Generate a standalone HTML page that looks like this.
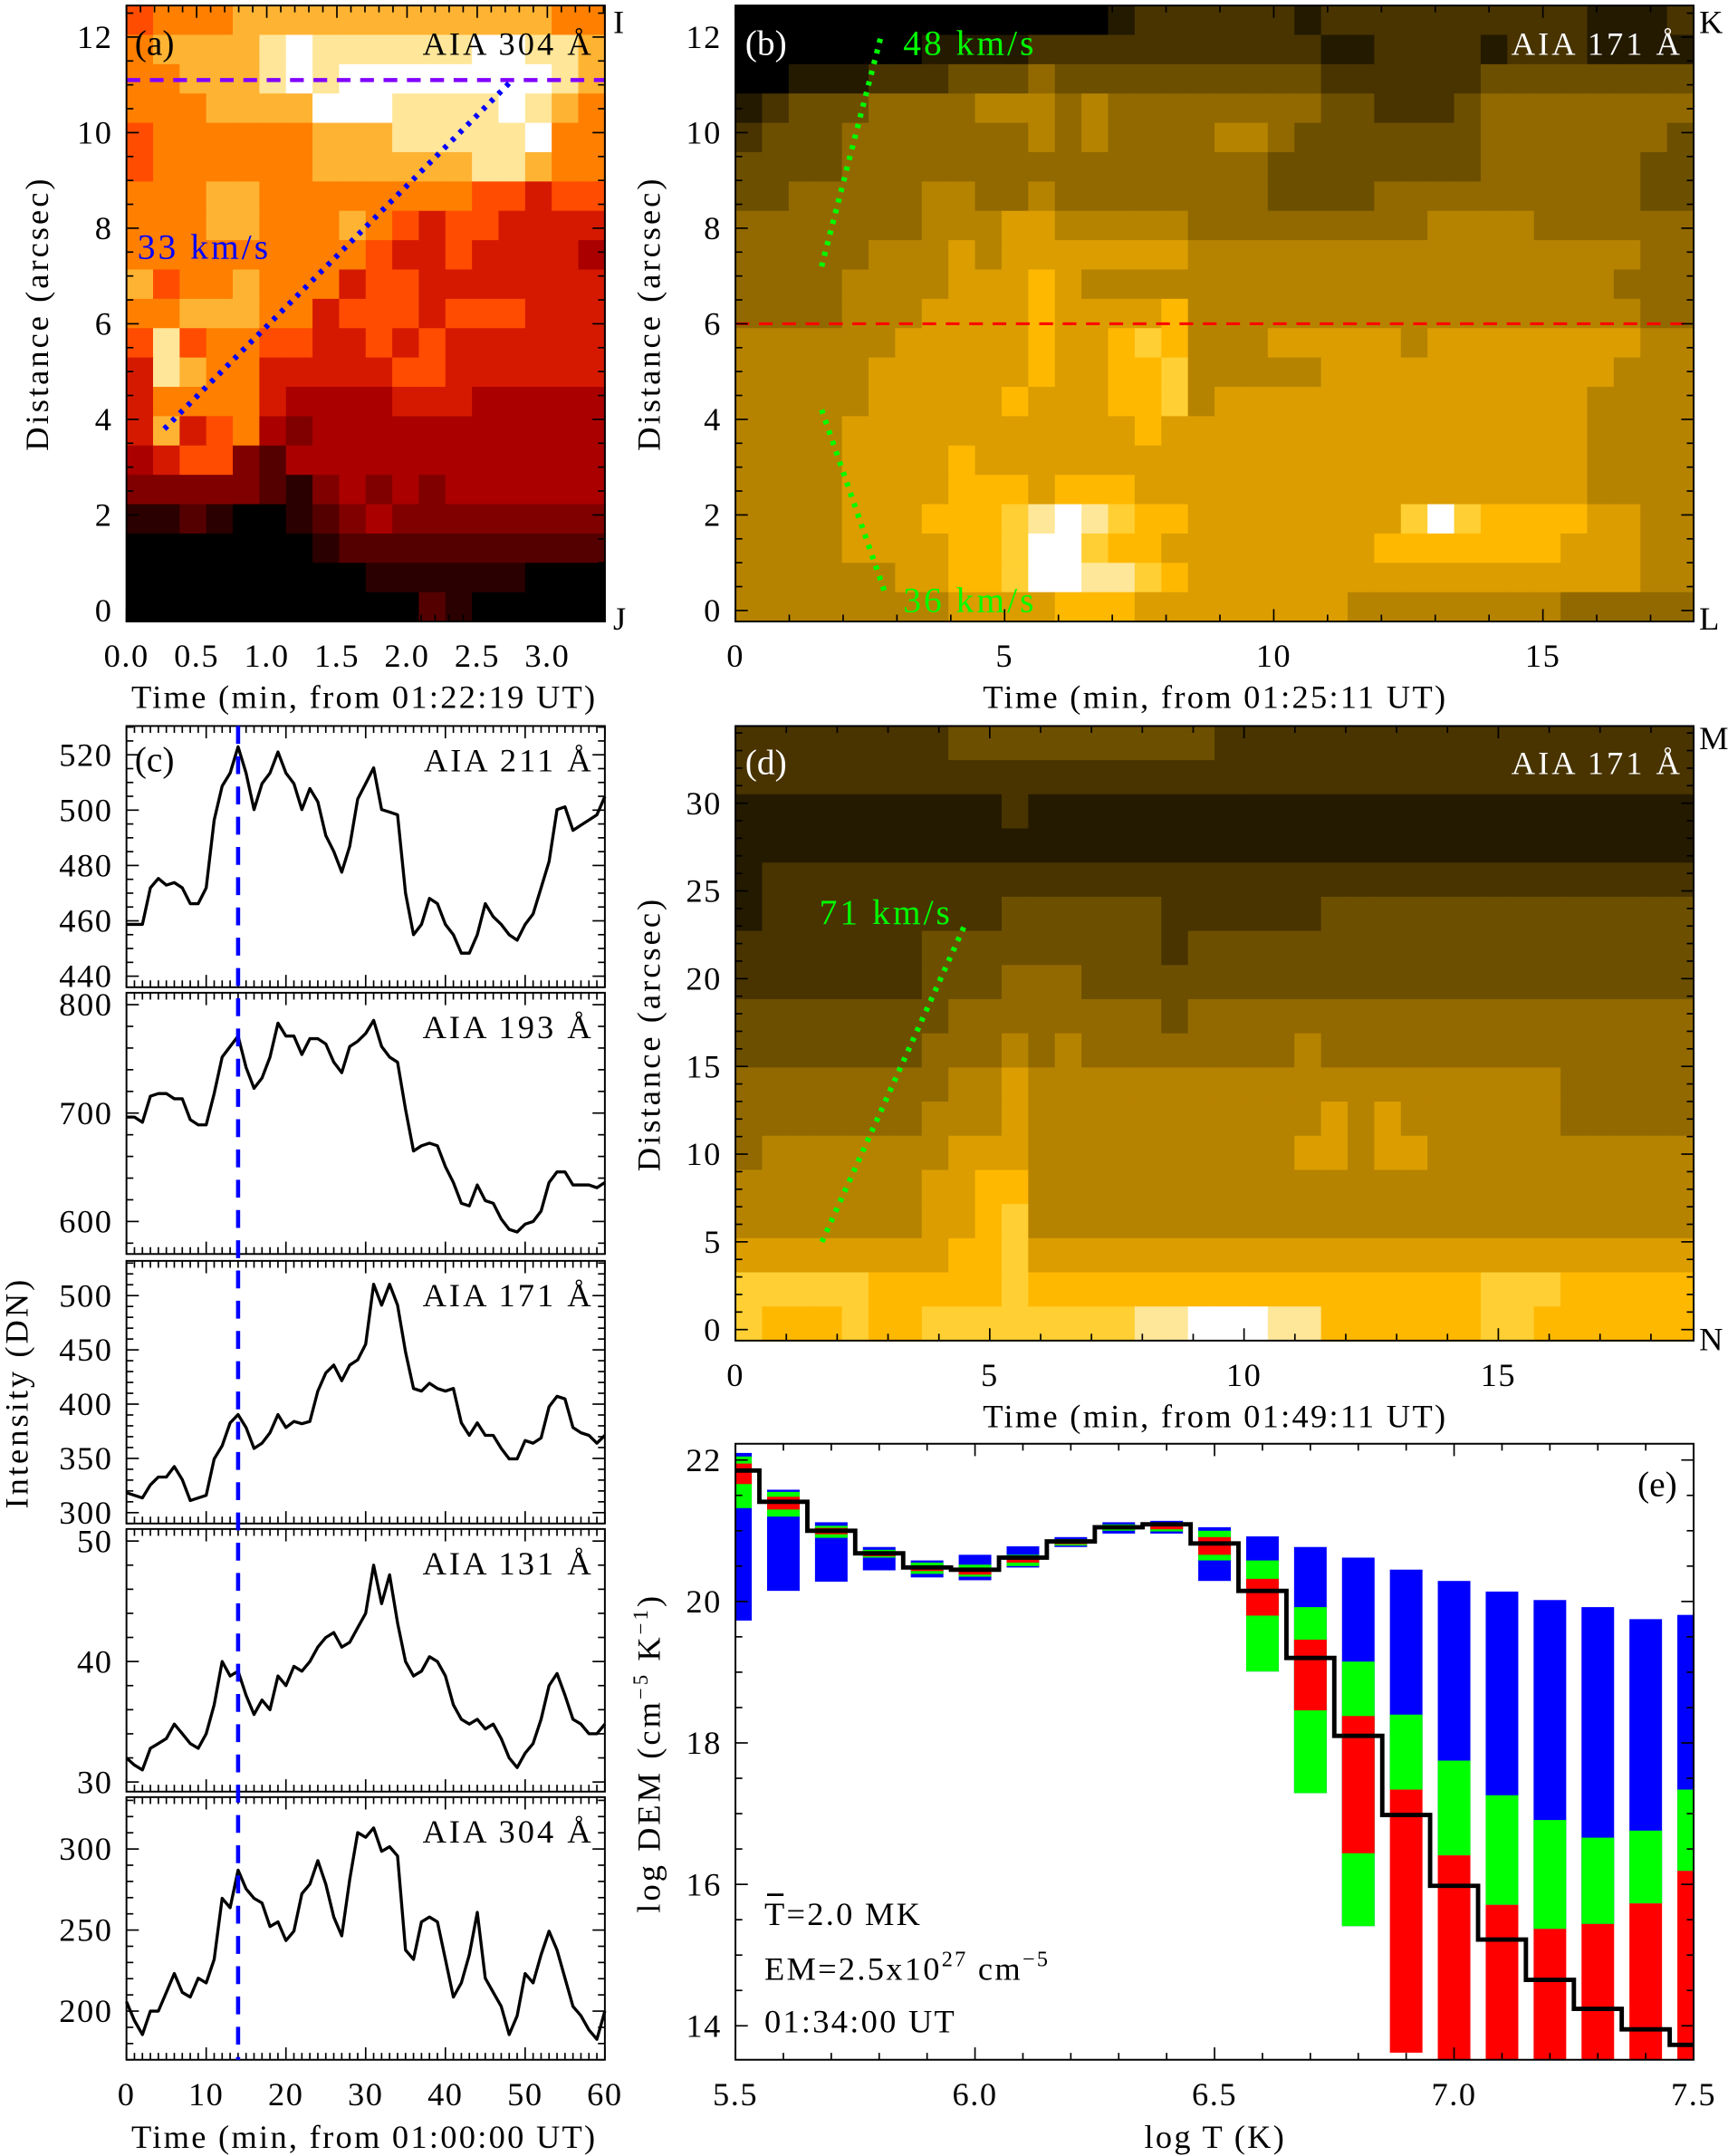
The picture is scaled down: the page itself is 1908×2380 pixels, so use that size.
<!DOCTYPE html>
<html><head><meta charset="utf-8">
<style>
html,body{margin:0;padding:0;background:#fff;}
svg{display:block;}
text{font-family:"Liberation Serif",serif;}
</style></head>
<body>
<svg id="fig" xmlns="http://www.w3.org/2000/svg" width="1908" height="2380" viewBox="0 0 1257 1568" preserveAspectRatio="none"></svg>
<script>
// ---------- DATA ----------
const seriesTimes = Array.from({length:61},(_, i)=>i); // minutes 0..60
const flux211 = [458.7,458.7,458.7,471.9,475.3,472.9,473.8,471.9,466.2,466.2,471.9,496.4,508.7,513.4,522.9,513.4,500.2,509.6,513.4,521.0,513.4,509.6,500.2,507.8,503.0,490.8,485.1,477.6,487.0,504.0,509.6,515.3,500.2,499.3,498.3,470.0,455.0,458.7,468.1,466.2,458.7,455.0,448.3,448.3,455.0,466.2,461.5,458.7,455.0,453.0,458.7,462.5,471.9,481.4,500.2,501.2,492.7,494.6,496.4,498.3,504.9];
const flux193 = [696.3,696.3,691.5,715.6,718,718,713.2,713.2,693.9,689.1,689.1,718,751.7,761.4,771,742.1,722.8,732.4,751.7,783,771,771,754.1,768.6,768.6,763.8,746.9,737.3,761.4,766.2,773.4,785.5,761.4,751.7,746.9,703.5,665,669.8,672.2,669.8,650.5,636,616.8,614.4,633.7,619.2,616.8,602.3,592.7,590.3,597.5,599.9,609.6,636,645.7,645.7,633.7,633.7,633.7,631.2,636];
const flux171 = [318.4,316,313.6,325.6,332.8,332.8,342.4,330.4,311.2,313.6,316,349.6,361.6,382.8,390.4,378.4,359.2,364,373.6,390.4,378.4,384,382,384,412,428.8,436,421.6,436,440.8,455.2,510.4,491.2,510.4,491.2,448,414.4,412,419.2,414.4,412,414.4,382.8,371.2,382.8,371.2,371.2,359.2,349.6,349.6,366.4,364,368.8,397.6,407.2,404.8,378.4,373.6,371.2,364,371.2];
const flux131 = [32,31.4,31,32.8,33.2,33.6,34.8,34,33.2,32.8,34,36.4,40,38.8,39.2,37.2,35.6,36.8,36,38.8,38,39.6,39.2,40,41.2,42,42.4,41.2,41.6,42.8,44,48,44.8,47.2,43.2,40,38.8,39.2,40.4,40,38.8,36.4,35.2,34.8,35.2,34.4,34.8,33.6,32,31.2,32.4,33.2,35.2,38,39,37.2,35.2,34.8,34,34,34.8];
const flux304 = [205.8,194.2,185.5,200,200,211.6,223.2,211.6,208.7,220.3,217.4,231.9,269.6,263.8,287,275.4,269.6,266.7,252.2,255.1,243.5,249.3,272.5,278.3,292.8,278.3,258,246.4,281.2,310.1,307.2,313,298.6,301.4,295.7,237.7,231.9,255.1,258,255.1,231.9,208.7,217.4,234.8,260.9,220.3,211.6,202.9,185.5,197.1,223.2,217.4,234.8,249.3,237.7,220.3,202.9,197.1,188.4,182.6,200];
const markTime = 14;

const demLogT = [5.5,5.6,5.7,5.8,5.9,6.0,6.1,6.2,6.3,6.4,6.5,6.6,6.7,6.8,6.9,7.0,7.1,7.2,7.3,7.4,7.5];
const demBest = [21.85,21.41,21.0,20.68,20.48,20.45,20.62,20.85,21.05,21.09,20.82,20.15,19.2,18.1,16.98,15.98,15.22,14.65,14.24,13.95,13.73];
const blueHi = [22.1,21.58,21.12,20.77,20.58,20.66,20.78,20.91,21.12,21.14,21.05,20.92,20.77,20.62,20.45,20.29,20.14,20.02,19.92,19.75,19.81];
const blueLo = [19.73,20.15,20.28,20.44,20.34,20.3,20.48,20.77,20.96,20.96,20.29,19.01,17.29,15.41,17.34,16.41,15.71,15.37,15.44,15.73,16.19];
const greenHi = [22.05,21.55,21.07,20.73,20.55,20.52,20.66,20.88,21.09,21.11,21.0,20.58,19.92,19.15,18.4,17.75,17.26,16.91,16.66,16.76,17.34];
const greenLo = [21.32,21.2,20.9,20.62,20.39,20.35,20.5,20.79,21.0,20.99,20.58,19.01,17.29,15.41,17.34,16.41,15.71,15.37,15.44,15.73,16.19];
const redHi = [21.95,21.48,21.04,20.7,20.51,20.47,20.62,20.85,21.06,21.08,20.91,20.32,19.46,18.38,17.34,16.41,15.71,15.37,15.44,15.73,16.19];
const redLo = [21.66,21.3,20.95,20.64,20.43,20.38,20.55,20.81,21.02,21.02,20.66,19.8,18.46,16.44,13.62,13.0,13.0,13.0,13.0,13.0,13.0];

// heatmap intensities (0-9, a=10), rows top->bottom
const grid304 = ["677788888888888877","788889a999999aa998","778889a9aaaaaaaa98","7778888aaa9999a987","677777788899999a77","677777788888899877","777887777777766566","777887778765665555","777777777655655554","867787775665555555","778887756665666555","696776655656555555","598775555566555555","577775444455544444","585674344444444444","456632444444444444","333332134343444444","112100123433333333","000000012222222222","000000000111111000","000000000002100000"];
const grid171b = ["000000000000001222222122222222221112","000000011112222222222211222212221111","001112223334333333333322222233333333","123334444555454444444433222344444444","233344444445454444554333333344444443","333344444444444444443333333344444433","334444455445444444443333444444444433","444444455566555554444444445555444444","444445556566666665555555555555555544","444455556667655555555555555555555444","444455566667666675555555555555555544","555555666667667875556666656666666655","555556666667667785555566666666666555","555556666676667785666666666666665555","555566666666666766666666666666665555","555566667666666666666666666666665555","555566667776777666666666666666665555","555566677789a9877666666668a877776655","55556666778aa87766666666777777766655","55555566778aa99876666666666666666655","555555556666777666666665555555544444"];
const grid171d = ["222222223333333333222222222222222222","222222222222222222222222222222222222","111111111121111111111111111111111111","111111111111111111111111111111111111","122222222222222222222222222222222222","122222222233333322222233333333333333","222222233333333323333333333333333333","222222233344433333333333333333333333","333333334444444434444444444444444444","333333344454544444444544444444444444","444444445565555555555555555555544444","444444455565555555555565655555544444","455555556665555555555665665555555555","555555566775555555555555555555555555","555555566785555555555555555555555555","666666667786666666666666666666666666","888887777787777777777777777788877777","87778778888888899aaa9977777788777777"];

// ---------- HELPERS ----------
const NS='http://www.w3.org/2000/svg';
const svg=document.getElementById('fig');
function el(tag, attrs, name, parent){
  const e=document.createElementNS(NS,tag);
  for(const k in attrs) e.setAttribute(k, attrs[k]);
  
  
  (parent||svg).appendChild(e);
  return e;
}
function txt(x,y,s,name,opts){
  opts=opts||{};
  const t=el('text',{x:x,y:y,'font-size':opts.size||24,fill:opts.fill||'#000','text-anchor':opts.anchor||'start','letter-spacing':opts.ls||0},name);
  if(opts.rot) t.setAttribute('transform','rotate('+opts.rot+' '+x+' '+y+')');
  t.textContent=s;
  return t;
}
function mkBox(x0,x1,y0,y1,xmin,xmax,ymin,ymax){
  return {x0,x1,y0,y1,xmin,xmax,ymin,ymax,
    sx:v=>x0+(v-xmin)/(xmax-xmin)*(x1-x0),
    sy:v=>y1-(v-ymin)/(ymax-ymin)*(y1-y0)};
}
function clamp(v){return Math.max(0,Math.min(1,v));}
function col304(t){return 'rgb('+Math.round(255*clamp(t/0.6))+','+Math.round(255*clamp((t-0.45)/0.5))+','+Math.round(255*clamp((t-0.75)/0.25))+')';}
function col171(t){return 'rgb('+Math.round(255*clamp(t/0.7))+','+Math.round(255*(clamp(t/0.7)*0.72+clamp((t-0.7)/0.3)*0.28))+','+Math.round(255*clamp((t-0.75)/0.25))+')';}
function heat(b,rows,cmap,name){
  const g=el('g',{},name);
  const h=(b.ymax-b.ymin)/rows.length;
  rows.forEach((r,i)=>{
    const w=(b.xmax-b.xmin)/r.length;
    for(let j=0;j<r.length;j++){
      const v=parseInt(r[j],16)/10;
      const xa=b.sx(b.xmin+j*w), xb=b.sx(b.xmin+(j+1)*w);
      const ya=b.sy(b.ymax-i*h), yb=b.sy(b.ymax-(i+1)*h);
      el('rect',{x:xa,y:ya,width:xb-xa+0.6,height:yb-ya+0.6,fill:cmap(v)},'heatmap-cell',g);
    }
  });
}
function frame(b,name){
  el('rect',{x:b.x0,y:b.y0,width:b.x1-b.x0,height:b.y1-b.y0,fill:'none',stroke:'#000','stroke-width':1.3},name);
}
function ticks(b,xMaj,xMin,yMaj,yMin,name,showX,showY,xfmt){
  const g=el('g',{stroke:'#000','stroke-width':1.1},name);
  const eps=1e-6;
  for(let v=Math.ceil(b.xmin/xMin-eps)*xMin; v<=b.xmax+eps; v+=xMin){
    const x=b.sx(v); const maj=xMaj.some(m=>Math.abs(m-v)<1e-6);const L=maj?9:5;
    el('line',{x1:x,x2:x,y1:b.y1,y2:b.y1-L},'x-tick',g);
    el('line',{x1:x,x2:x,y1:b.y0,y2:b.y0+L},'x-tick-top',g);
  }
  for(let v=Math.ceil(b.ymin/yMin-eps)*yMin; v<=b.ymax+eps; v+=yMin){
    const y=b.sy(v); const maj=yMaj.some(m=>Math.abs(m-v)<1e-6);const L=maj?9:5;
    el('line',{x1:b.x0,x2:b.x0+L,y1:y,y2:y},'y-tick',g);
    el('line',{x1:b.x1,x2:b.x1-L,y1:y,y2:y},'y-tick-right',g);
  }
  if(showX) xMaj.forEach(v=>txt(b.sx(v),b.y1+33,xfmt?xfmt(v):String(v),'x-tick-label',{anchor:'middle',ls:1}));
  if(showY) yMaj.forEach(v=>txt(b.x0-10,b.sy(v)+8,String(v),'y-tick-label',{anchor:'end',ls:1}));
}
function dotted(b,p,q,color,name){
  el('line',{x1:b.sx(p[0]),y1:b.sy(p[1]),x2:b.sx(q[0]),y2:b.sy(q[1]),stroke:color,'stroke-width':4,'stroke-dasharray':'3,5'},name);
}

// ---------- PANEL A ----------
const A=mkBox(92,440,4,452,0,3.41,-0.23,12.66);
heat(A,grid304,col304,'panel-a-heatmap');
el('line',{x1:A.x0,x2:A.x1,y1:A.sy(11.1),y2:A.sy(11.1),stroke:'#8000ff','stroke-width':3,'stroke-dasharray':'10,7'},'purple-dashed-line');
dotted(A,[0.27,3.8],[2.75,11.1],'#0000ff','dotted-fit-33kms');
txt(100,188,'33 km/s','speed-label-33',{fill:'#0000ff',size:26,ls:2});
txt(98,40,'(a)','panel-a-label',{size:26});
txt(432,40,'AIA 304 Å','panel-a-title',{anchor:'end',ls:2});
txt(446,24,'I','marker-I');txt(446,458,'J','marker-J');
frame(A,'panel-a-frame');
ticks(A,[0,0.5,1,1.5,2,2.5,3],0.1,[0,2,4,6,8,10,12],0.5,'panel-a-ticks',true,true,v=>v.toFixed(1));
txt(265,515,'Time (min, from 01:22:19 UT)','panel-a-x-title',{anchor:'middle',ls:1.5});
txt(35,228,'Distance (arcsec)','panel-a-y-title',{anchor:'middle',rot:-90,ls:2});

// ---------- PANEL B ----------
const B=mkBox(535,1232,4,452,0,17.8,-0.23,12.66);
heat(B,grid171b,col171,'panel-b-heatmap');
el('line',{x1:B.x0,x2:B.x1,y1:B.sy(6),y2:B.sy(6),stroke:'#ff0000','stroke-width':2,'stroke-dasharray':'10,7'},'red-dashed-line');
dotted(B,[1.6,7.2],[2.7,12.0],'#00ff00','dotted-fit-48kms');
dotted(B,[1.6,4.2],[2.8,0.3],'#00ff00','dotted-fit-36kms');
txt(657,40,'48 km/s','speed-label-48',{fill:'#00ff00',size:26,ls:2});
txt(657,445,'36 km/s','speed-label-36',{fill:'#00ff00',size:26,ls:2});
txt(542,40,'(b)','panel-b-label',{fill:'#fff',size:26});
txt(1224,40,'AIA 171 Å','panel-b-title',{anchor:'end',fill:'#fff',ls:2});
txt(1236,24,'K','marker-K');txt(1236,458,'L','marker-L');
frame(B,'panel-b-frame');
ticks(B,[0,5,10,15],1,[0,2,4,6,8,10,12],0.5,'panel-b-ticks',true,true);
txt(884,515,'Time (min, from 01:25:11 UT)','panel-b-x-title',{anchor:'middle',ls:1.5});
txt(480,228,'Distance (arcsec)','panel-b-y-title',{anchor:'middle',rot:-90,ls:2});

// ---------- PANEL D ----------
const D=mkBox(535,1232,528,975,0,18.84,-0.63,34.4);
heat(D,grid171d,col171,'panel-d-heatmap');
dotted(D,[1.7,5],[4.5,23],'#00ff00','dotted-fit-71kms');
txt(596,672,'71 km/s','speed-label-71',{fill:'#00ff00',size:26,ls:2});
txt(542,563,'(d)','panel-d-label',{fill:'#fff',size:26});
txt(1224,563,'AIA 171 Å','panel-d-title',{anchor:'end',fill:'#fff',ls:2});
txt(1236,545,'M','marker-M');txt(1236,982,'N','marker-N');
frame(D,'panel-d-frame');
ticks(D,[0,5,10,15],1,[0,5,10,15,20,25,30],1,'panel-d-ticks',true,true);
txt(884,1038,'Time (min, from 01:49:11 UT)','panel-d-x-title',{anchor:'middle',ls:1.5});
txt(480,752,'Distance (arcsec)','panel-d-y-title',{anchor:'middle',rot:-90,ls:2});

// ---------- PANEL C ----------
const cPanels=[
 {y0:528,y1:718,ymin:436,ymax:530.4,maj:[440,460,480,500,520],min:5,data:flux211,title:'AIA 211 Å',name:'211'},
 {y0:722,y1:912,ymin:570,ymax:811,maj:[600,700,800],min:20,data:flux193,title:'AIA 193 Å',name:'193'},
 {y0:917,y1:1108,ymin:290,ymax:532,maj:[300,350,400,450,500],min:10,data:flux171,title:'AIA 171 Å',name:'171'},
 {y0:1112,y1:1303,ymin:29.2,ymax:51,maj:[30,40,50],min:2,data:flux131,title:'AIA 131 Å',name:'131'},
 {y0:1307,y1:1498,ymin:170,ymax:332,maj:[200,250,300],min:10,data:flux304,title:'AIA 304 Å',name:'304'}];
cPanels.forEach((p,k)=>{
  const b=mkBox(92,440,p.y0,p.y1,0,60,p.ymin,p.ymax);
  const d=p.data.map((v,i)=>(i?'L':'M')+b.sx(seriesTimes[i]).toFixed(1)+','+b.sy(v).toFixed(1)).join(' ');
  el('path',{d:d,fill:'none',stroke:'#000','stroke-width':2.2,'stroke-linejoin':'round'},'lightcurve-'+p.name);
  frame(b,'panel-c-frame-'+p.name);
  ticks(b,[0,10,20,30,40,50,60],1,p.maj,p.min,'panel-c-ticks-'+p.name,k===4,true);
  txt(432,p.y0+33,p.title,'lightcurve-title-'+p.name,{anchor:'end',ls:2});
});
const C0=mkBox(92,440,528,1498,0,60,0,1);
el('line',{x1:C0.sx(markTime),x2:C0.sx(markTime),y1:528,y2:1498,stroke:'#0000ff','stroke-width':3,'stroke-dasharray':'13,9'},'blue-dashed-time-marker');
txt(98,561,'(c)','panel-c-label',{size:26});
txt(265,1562,'Time (min, from 01:00:00 UT)','panel-c-x-title',{anchor:'middle',ls:1.5});
txt(20,1013,'Intensity (DN)','panel-c-y-title',{anchor:'middle',rot:-90,ls:2});

// ---------- PANEL E ----------
const E=mkBox(535,1232,1050,1498,5.5,7.5,13.52,22.23);
const cp=el('clipPath',{id:'eclip'},'dem-clip');
el('rect',{x:E.x0,y:E.y0,width:E.x1-E.x0,height:E.y1-E.y0},'dem-clip-rect',cp);
const eg=el('g',{'clip-path':'url(#eclip)'},'dem-bars');
const bw=0.068;
demLogT.forEach((t,i)=>{
  [[blueLo,blueHi,'#0000ff','dem-bar-blue'],[greenLo,greenHi,'#00ff00','dem-bar-green'],[redLo,redHi,'#ff0000','dem-bar-red']].forEach(s=>{
    const xa=E.sx(t-bw/2), xb=E.sx(t+bw/2), ya=E.sy(s[1][i]), yb=E.sy(s[0][i]);
    el('rect',{x:xa,y:ya,width:xb-xa,height:yb-ya,fill:s[2]},s[3],eg);
  });
});
let sd='';
demLogT.forEach((t,i)=>{
  const xa=E.sx(Math.max(5.5,t-0.05)), xb=E.sx(Math.min(7.5,t+0.05)), y=E.sy(demBest[i]);
  sd+=(i?'L':'M')+xa.toFixed(1)+','+y.toFixed(1)+' L'+xb.toFixed(1)+','+y.toFixed(1)+' ';
});
el('path',{d:sd,fill:'none',stroke:'#000','stroke-width':3.2,'clip-path':'url(#eclip)'},'dem-best-fit-step');
frame(E,'panel-e-frame');
ticks(E,[5.5,6.0,6.5,7.0,7.5],0.1,[14,16,18,20,22],0.5,'panel-e-ticks',true,true,v=>v.toFixed(1));
txt(1220,1088,'(e)','panel-e-label',{anchor:'end',size:26});
el('line',{x1:558,x2:570,y1:1378,y2:1378,stroke:'#000','stroke-width':1.8},'tbar-overline');
txt(556,1400,'T=2.0 MK','mean-temperature',{ls:1.5});
const em=txt(556,1440,'EM=2.5x10','emission-measure',{ls:1.5});
const s1=document.createElementNS(NS,'tspan');s1.setAttribute('dy','-10');s1.setAttribute('font-size','16');s1.textContent='27';em.appendChild(s1);
const s2=document.createElementNS(NS,'tspan');s2.setAttribute('dy','10');s2.textContent=' cm';em.appendChild(s2);
const s3=document.createElementNS(NS,'tspan');s3.setAttribute('dy','-10');s3.setAttribute('font-size','16');s3.textContent='−5';em.appendChild(s3);
txt(556,1478,'01:34:00 UT','dem-time',{ls:1.5});
txt(884,1562,'log T (K)','panel-e-x-title',{anchor:'middle',ls:1.5});
const yt=txt(480,1275,'log DEM (cm','panel-e-y-title',{anchor:'middle',rot:-90,ls:2});
const u1=document.createElementNS(NS,'tspan');u1.setAttribute('dy','-9');u1.setAttribute('font-size','15');u1.textContent='−5';yt.appendChild(u1);
const u2=document.createElementNS(NS,'tspan');u2.setAttribute('dy','9');u2.textContent=' K';yt.appendChild(u2);
const u3=document.createElementNS(NS,'tspan');u3.setAttribute('dy','-9');u3.setAttribute('font-size','15');u3.textContent='−1';yt.appendChild(u3);
const u4=document.createElementNS(NS,'tspan');u4.setAttribute('dy','9');u4.textContent=')';yt.appendChild(u4);
</script>
</body></html>
